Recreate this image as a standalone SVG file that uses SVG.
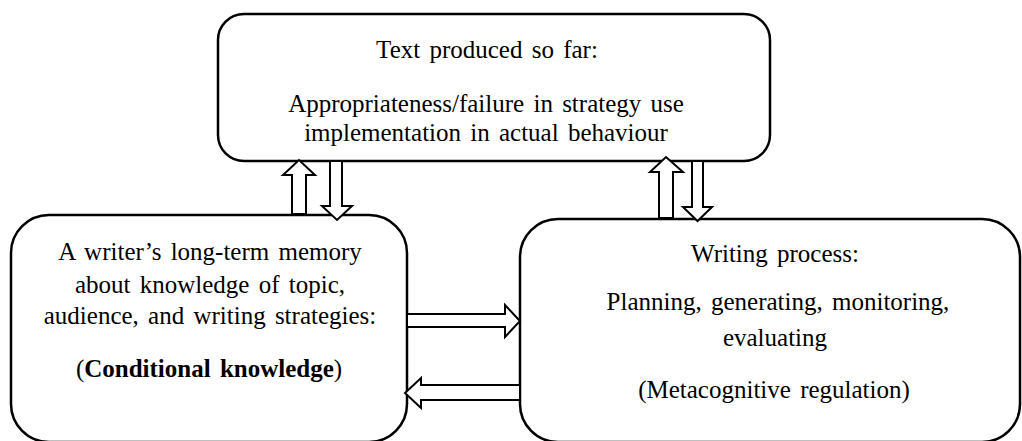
<svg xmlns="http://www.w3.org/2000/svg" width="1022" height="441" viewBox="0 0 1022 441">
  <style>
    .box { fill: #ffffff; stroke: #000000; stroke-width: 2.5; }
    .arrow { fill: #ffffff; stroke: #000000; stroke-width: 2; stroke-linejoin: miter; }
    .lbl { font-family: "Liberation Serif", "Times New Roman", serif; font-size: 25px; fill: #000000; text-anchor: middle; word-spacing: 3px; }
    .bold { font-weight: bold; }
  </style>
  <rect x="0" y="0" width="1022" height="441" fill="#ffffff"/>

  <g id="node-text-so-far">
    <rect class="box" x="218" y="14" width="552" height="147" rx="26" ry="26"/>
    <text class="lbl" x="487" y="58">Text produced so far:</text>
    <text class="lbl" x="486" y="112">Appropriateness/failure in strategy use</text>
    <text class="lbl" x="486" y="141">implementation in actual behaviour</text>
  </g>

  <g id="node-long-term-memory">
    <rect class="box" x="11" y="215" width="396" height="227" rx="38" ry="38"/>
    <text class="lbl" x="210" y="260">A writer’s long-term memory</text>
    <text class="lbl" x="210" y="293">about knowledge of topic,</text>
    <text class="lbl" x="210" y="324">audience, and writing strategies:</text>
    <text class="lbl" x="209" y="377">(<tspan class="bold">Conditional knowledge</tspan>)</text>
  </g>

  <g id="node-writing-process">
    <rect class="box" x="520" y="219" width="500" height="223" rx="38" ry="38"/>
    <text class="lbl" x="775" y="262">Writing process:</text>
    <text class="lbl" x="778" y="310">Planning, generating, monitoring,</text>
    <text class="lbl" x="775" y="346">evaluating</text>
    <text class="lbl" x="774" y="398">(Metacognitive regulation)</text>
  </g>

  <g id="connectors">
    <!-- memory -> text so far -->
    <path class="arrow" d="M292,214 L292,175 L283,175 L299,160 L315,175 L306,175 L306,214 Z"/>
    <!-- text so far -> memory -->
    <path class="arrow" d="M330,161 L330,206 L322,206 L337,220 L352,206 L342,206 L342,161 Z"/>
    <!-- writing process -> text so far -->
    <path class="arrow" d="M659,218 L659,172 L650,172 L666,157 L683,172 L673,172 L673,218 Z"/>
    <!-- text so far -> writing process -->
    <path class="arrow" d="M692,161 L692,207 L683,207 L697.5,221 L712,207 L703,207 L703,161 Z"/>
    <!-- memory -> writing process -->
    <path class="arrow" d="M407,314 L505,314 L505,305 L520,321 L505,337 L505,327 L407,327 Z"/>
    <!-- writing process -> memory -->
    <path class="arrow" d="M520,385 L421,385 L421,378 L405,393 L421,408 L421,400 L520,400 Z"/>
  </g>
</svg>
